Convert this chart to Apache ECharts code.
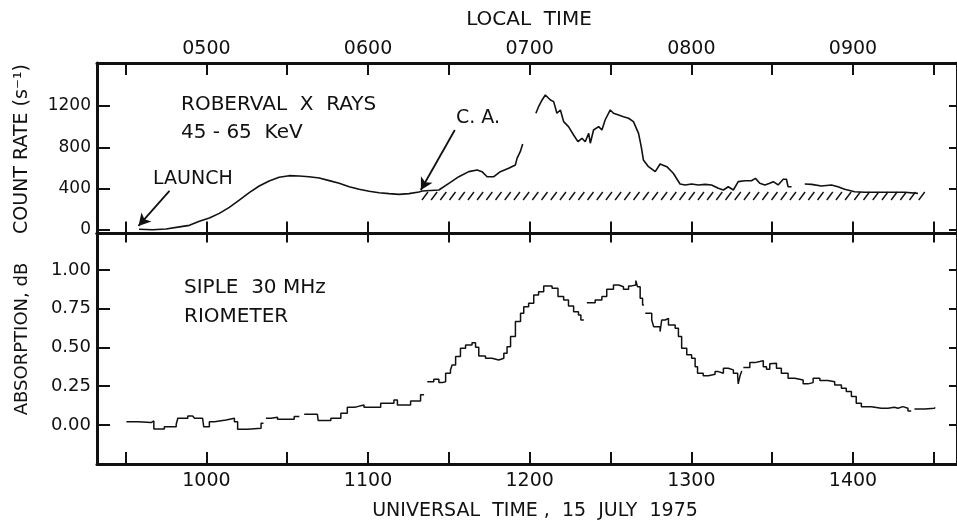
<!DOCTYPE html>
<html>
<head>
<meta charset="utf-8">
<script src="https://cdn.jsdelivr.net/npm/echarts@6.0.0/dist/echarts.min.js"></script>
<style>
html,body{margin:0;padding:0;background:#fff;}
#chart{width:957px;height:521px;}
</style>
</head>
<body>
<div id="chart"></div>
<script>
// ---- Axis definitions (time in minutes after 0000 UT) ----
var timeTicks = [570, 600, 630, 660, 690, 720, 750, 780, 810, 840, 870];
var timeLabels = [600, 660, 720, 780, 840];
var localOffset = 300; // local time = UT - 5 h
var countTicks = [0, 400, 800, 1200];
var absTicks = [0, 0.25, 0.5, 0.75, 1.0];

// ---- Roberval X rays 45-65 keV count rate (s^-1) ----
var xrayTimes = [575, 580, 585, 590, 593.7, 597.4, 601.1, 604.8, 608.5, 612.2, 615.9, 619.6, 623.3, 627, 630.7, 634.4, 638.1, 641.9, 645.6, 649.3, 653, 656.7, 660.4, 664.1, 667.8, 671.5, 675.2, 678.9, 680.1, 686.3, 690, 693.7, 697.4, 700.5, 702.3, 704.2, 706.7, 709.1, 712.2, 714.7, 715.3, 716.5, 717.4,
  719.8,
  722.3, 723.3, 724.6, 725.8, 727.7, 728.9, 730.1, 731.4, 732.6, 734.4, 736.3, 737.9, 739.4, 740.6, 741.9, 742.5, 743.7, 745.6, 746.8, 748, 749.9, 751.1, 753, 754.8, 756.7, 758.5, 760.4, 761.4, 762.2, 764.1, 766.6, 768.4, 770.9, 773.3, 775.8, 777.7, 780.1,
  782.6, 785.1, 787.5, 790, 791.9, 793.7, 795.6, 797.4, 799.9, 802.3, 803.8, 805.4, 807.3, 809.1, 810.4, 812.2, 814.1, 815.3, 815.9, 817.2,
  819.5,
  822.1, 824.6, 828.3, 832, 834.4, 836.9, 840.6, 844.3, 849.3, 854.2, 859.1, 864.1];
var xrayValues = [7, 3, 10, 30, 45, 84, 116, 161, 219, 290, 361, 426, 475, 510, 526, 523, 516, 504, 478, 452, 419, 394, 375, 361, 352, 345, 352, 368, 378, 387, 452, 516, 565, 581, 565, 516, 516, 565, 597, 630, 694, 758, 833,
  null,
  1130, 1194, 1259, 1307, 1259, 1243, 1130, 1162, 1049, 1001, 920, 855, 888, 855, 936, 840, 968, 1001, 968, 1065, 1162, 1130, 1114, 1097, 1082, 1049, 936, 807, 678, 613, 565, 639, 613, 549, 445, 436, 445,
  436, 442, 436, 404, 387, 419, 387, 468, 477, 477, 500, 452, 436, 452, 468, 436, 491, 491, 419, 419,
  null,
  445, 442, 426, 436, 419, 394, 371, 365, 365, 365, 365, 355];

// background level (hatched band): [start, end, low, high]
var background = [[680, 869, 290, 368]];

// annotation arrows [fromTime, fromValue, toTime, toValue]
var launchArrow = [586.3, 378, 574.8, 39];
var caArrow = [692.2, 968, 679.6, 387];

// ---- Siple 30 MHz riometer absorption (dB) ----
var rioTimes = [570.3, 574.6, 579.5, 580.5, 584.4, 588.8, 589.4, 593.1, 594.9, 595.6, 598.6, 599.0, 601.1, 603.0, 607.3, 610.4, 611.6, 615.3, 620.3,
  621.2,
  622.1, 624.0, 626.4, 632.6,
  634.5,
  636.3, 641.2, 641.5, 646.2, 649.9, 652.3, 654.8, 656.0, 658.5, 661.6, 664.7, 669.6, 670.9, 675.8, 679.5,
  680.8,
  682.0, 684.4, 686.3, 687.5, 688.8, 690.6, 691.2, 692.5, 694.3, 696.2, 698.6, 699.9, 701.1, 703.6, 706.0, 708.5, 710.4, 711.6, 712.9, 714.7, 716.6, 717.8, 719.6, 721.5, 723.3, 725.2, 727.0, 728.3, 729.5, 730.5, 732.6, 734.4, 736.3, 738.1, 739.0,
  740.1,
  741.2, 744.3, 746.8, 748.6, 751.1, 753.0, 754.8, 756.7, 757.9, 759.4, 760.0, 761.0, 761.9,
  762.4,
  762.9, 765.3, 766.0, 768.4, 769.0, 770.3, 771.5, 774.0, 775.2, 776.4, 778.3, 780.1, 781.4, 782.3, 784.4, 786.3, 788.8, 790.0, 791.9, 793.7, 795.6, 797.2, 797.4, 798.0, 798.6,
  798.9,
  799.3, 801.7, 803.6, 805.4, 806.7, 807.9, 809.1, 809.7, 811.6, 813.4, 815.9, 818.4, 821.5, 823.3, 825.2, 827.7, 830.7, 833.2, 835.7, 837.5, 839.4, 841.2, 843.1, 846.8, 850.5, 853.0, 855.4, 856.7, 858.5, 860.4,
  861.6,
  862.8, 866.6, 870.3];
var rioValues = [0.021, 0.015, 0.026, -0.026, -0.011, 0.004, 0.043, 0.058, 0.065, 0.043, 0.039, -0.011, 0.021, 0.032, 0.043, 0.021, -0.028, -0.021, 0.011,
  null,
  0.043, 0.050, 0.037, 0.054,
  null,
  0.069, 0.065, 0.028, 0.043, 0.075, 0.114, 0.118, 0.129, 0.114, 0.114, 0.140, 0.161, 0.129, 0.155, 0.194,
  null,
  0.279, 0.295, 0.273, 0.279, 0.333, 0.355, 0.387, 0.441, 0.495, 0.516, 0.531, 0.501, 0.445, 0.430, 0.419, 0.430, 0.462, 0.505, 0.570, 0.667, 0.720, 0.763, 0.785, 0.839, 0.860, 0.897, 0.897, 0.882, 0.882, 0.828, 0.806, 0.768, 0.731, 0.710, 0.677,
  null,
  0.789, 0.806, 0.828, 0.875, 0.903, 0.892, 0.875, 0.897, 0.903, 0.931, 0.892, 0.817, 0.774,
  null,
  0.720, 0.677, 0.634, 0.602, 0.677, 0.688, 0.645, 0.624, 0.570, 0.495, 0.452, 0.430, 0.376, 0.333, 0.318, 0.327, 0.344, 0.333, 0.366, 0.355, 0.333, 0.312, 0.265, 0.312, 0.344,
  null,
  0.370, 0.402, 0.409, 0.415, 0.376, 0.359, 0.394, 0.398, 0.366, 0.333, 0.301, 0.290, 0.265, 0.273, 0.301, 0.286, 0.279, 0.258, 0.237, 0.215, 0.183, 0.140, 0.118, 0.108, 0.108, 0.114, 0.108, 0.118, 0.108, 0.090,
  null,
  0.103, 0.108, 0.114];

// ---- Build ----
function pairs(ts, vs) {
  return ts.map(function (t, i) { return [t, vs[i] === null ? '-' : vs[i]]; });
}
function hhmm(v) {
  var h = Math.floor(v / 60), m = Math.round(v - h * 60);
  return (h < 10 ? '0' : '') + h + (m < 10 ? '0' : '') + m;
}
var INK = '#111';
var FONT = 'DejaVu Sans';
var xMin = 559.4, xMax = 878.6;

var chart = echarts.init(document.getElementById('chart'), null, {renderer: 'canvas'});

function xAxisBase(gridIndex, position, tickLen, showLabels, fmt) {
  return {
    type: 'value', gridIndex: gridIndex, position: position, min: xMin, max: xMax,
    axisLine: {show: true, onZero: false, lineStyle: {color: INK, width: 3}},
    axisTick: {show: true, inside: true, length: tickLen, customValues: timeTicks, lineStyle: {color: INK, width: 2}},
    axisLabel: {show: showLabels, customValues: timeLabels, formatter: fmt, color: INK,
      fontFamily: FONT, fontSize: 19, margin: position === 'top' ? 4 : 8},
    splitLine: {show: false}
  };
}

var option = {
  animation: false,
  backgroundColor: '#fff',
  grid: [
    {left: 97, right: -2, top: 63, height: 170.5},
    {left: 97, right: -2, top: 233.5, height: 230.5}
  ],
  xAxis: [
    xAxisBase(0, 'bottom', 12, false),
    xAxisBase(0, 'top', 12, true, function (v) { return hhmm(v - localOffset); }),
    xAxisBase(1, 'top', 9, false),
    xAxisBase(1, 'bottom', 12, true, function (v) { return hhmm(v); })
  ],
  yAxis: [
    {type: 'value', gridIndex: 0, position: 'left', min: -34, max: 1617,
      axisLine: {show: true, lineStyle: {color: INK, width: 3}},
      axisTick: {show: true, inside: true, length: 13, customValues: countTicks, lineStyle: {color: INK, width: 2}},
      axisLabel: {customValues: countTicks, color: INK, fontFamily: FONT, fontSize: 17, margin: 6,
        formatter: function (v) { return String(Math.round(v)); }},
      splitLine: {show: false}},
    {type: 'value', gridIndex: 0, position: 'right', min: -34, max: 1617,
      axisLine: {show: true, lineStyle: {color: INK, width: 3}},
      axisTick: {show: true, inside: true, length: 8, customValues: countTicks, lineStyle: {color: INK, width: 2}},
      axisLabel: {show: false}, splitLine: {show: false}},
    {type: 'value', gridIndex: 1, position: 'left', min: -0.252, max: 1.235,
      axisLine: {show: true, lineStyle: {color: INK, width: 3}},
      axisTick: {show: true, inside: true, length: 13, customValues: absTicks, lineStyle: {color: INK, width: 2}},
      axisLabel: {customValues: absTicks, color: INK, fontFamily: FONT, fontSize: 18, margin: 6,
        formatter: function (v) { return v.toFixed(2); }},
      splitLine: {show: false}},
    {type: 'value', gridIndex: 1, position: 'right', min: -0.252, max: 1.235,
      axisLine: {show: true, lineStyle: {color: INK, width: 3}},
      axisTick: {show: true, inside: true, length: 8, customValues: absTicks, lineStyle: {color: INK, width: 2}},
      axisLabel: {show: false}, splitLine: {show: false}}
  ],
  series: [
    {
      type: 'custom', name: 'background', xAxisIndex: 0, yAxisIndex: 0,
      encode: {x: [0, 1], y: [2, 3]},
      data: background,
      renderItem: function (params, api) {
        var t0 = api.value(0), t1 = api.value(1), lo = api.value(2), hi = api.value(3);
        var a = api.coord([t0, hi]), b = api.coord([t1, lo]);
        var children = [];
        for (var x = a[0]; x < b[0] - 5; x += 9.2) {
          children.push({type: 'line', shape: {x1: x, y1: b[1], x2: x + 6, y2: a[1]},
            style: {stroke: INK, lineWidth: 1.4}});
        }
        return {type: 'group', children: children};
      },
      silent: true
    },
    {
      type: 'line', name: 'xray', xAxisIndex: 0, yAxisIndex: 0,
      data: pairs(xrayTimes, xrayValues),
      showSymbol: false, symbol: 'none', connectNulls: false,
      lineStyle: {color: INK, width: 1.6},
      silent: true,
      markLine: {
        silent: true, symbol: ['none', 'arrow'], symbolSize: [10, 12],
        label: {show: false},
        lineStyle: {color: INK, width: 1.8, type: 'solid'},
        data: [
          [{coord: [launchArrow[0], launchArrow[1]]}, {coord: [launchArrow[2], launchArrow[3]]}],
          [{coord: [caArrow[0], caArrow[1]]}, {coord: [caArrow[2], caArrow[3]]}]
        ]
      }
    },
    {
      type: 'line', name: 'riometer', xAxisIndex: 3, yAxisIndex: 2,
      data: pairs(rioTimes, rioValues),
      step: 'end', showSymbol: false, symbol: 'none', connectNulls: false,
      lineStyle: {color: INK, width: 1.5},
      silent: true
    }
  ],
  graphic: [
    {type: 'text', x: 529, y: 20, style: {text: 'LOCAL  TIME', font: '20px "DejaVu Sans"', fill: INK, textAlign: 'center', textVerticalAlign: 'middle'}},
    {type: 'text', x: 535, y: 511, style: {text: 'UNIVERSAL  TIME ,  15  JULY  1975', font: '19px "DejaVu Sans"', fill: INK, textAlign: 'center', textVerticalAlign: 'middle'}},
    {type: 'text', x: 22, y: 149, rotation: Math.PI / 2, style: {text: 'COUNT RATE (s\u207B\u00B9)', font: '19px "DejaVu Sans"', fill: INK, textAlign: 'center', textVerticalAlign: 'middle'}},
    {type: 'text', x: 22, y: 339, rotation: Math.PI / 2, style: {text: 'ABSORPTION, dB', font: '18px "DejaVu Sans"', fill: INK, textAlign: 'center', textVerticalAlign: 'middle'}},
    {type: 'text', x: 181, y: 105, style: {text: 'ROBERVAL  X  RAYS', font: '20px "DejaVu Sans"', fill: INK, textAlign: 'left', textVerticalAlign: 'middle'}},
    {type: 'text', x: 181, y: 133, style: {text: '45 - 65  KeV', font: '20px "DejaVu Sans"', fill: INK, textAlign: 'left', textVerticalAlign: 'middle'}},
    {type: 'text', x: 153, y: 179, style: {text: 'LAUNCH', font: '19px "DejaVu Sans"', fill: INK, textAlign: 'left', textVerticalAlign: 'middle'}},
    {type: 'text', x: 456, y: 118, style: {text: 'C. A.', font: '19px "DejaVu Sans"', fill: INK, textAlign: 'left', textVerticalAlign: 'middle'}},
    {type: 'text', x: 184, y: 288, style: {text: 'SIPLE  30 MHz', font: '20px "DejaVu Sans"', fill: INK, textAlign: 'left', textVerticalAlign: 'middle'}},
    {type: 'text', x: 184, y: 317, style: {text: 'RIOMETER', font: '20px "DejaVu Sans"', fill: INK, textAlign: 'left', textVerticalAlign: 'middle'}}
  ]
};
chart.setOption(option);
</script>
</body>
</html>
